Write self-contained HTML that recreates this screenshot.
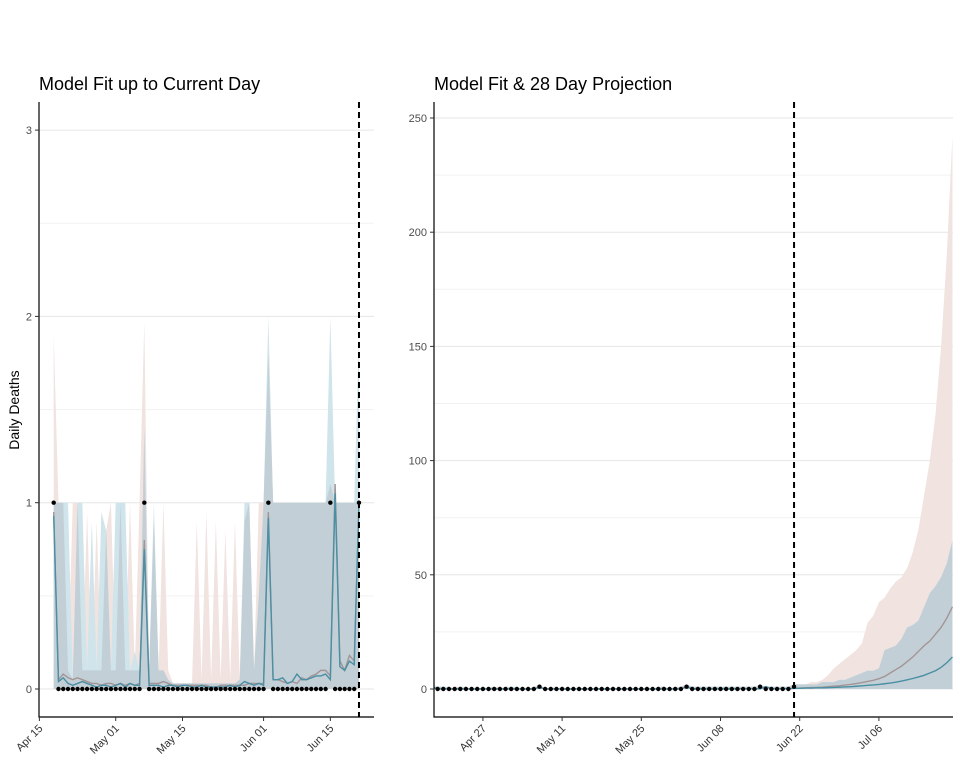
<!DOCTYPE html>
<html><head><meta charset="utf-8">
<style>
html,body{margin:0;padding:0;background:#fff;}
svg{display:block;font-family:"Liberation Sans",sans-serif;}
</style></head>
<body>
<svg id="chart" width="960" height="768" viewBox="0 0 960 768">
</svg>
<script>
// ---------- data ----------
const deaths = [1,0,0,0,0,0,0,0,0,0,0,0,0,0,0,0,0,0,0,1,0,0,0,0,0,0,0,0,0,0,0,0,0,0,0,0,0,0,0,0,0,0,0,0,0,1,0,0,0,0,0,0,0,0,0,0,0,0,1,0,0,0,0,0,1];
const pinkUpperHist = [1.9,1,1,0.1,1,1,0.1,0.95,0.1,0.9,0.1,0.85,1,0.1,1,0.1,1,0.1,1,1.97,0.1,0.9,0.1,1,0.1,0.03,0.03,0.03,0.03,0.03,0.9,0.05,0.95,0.05,0.9,0.05,0.85,0.05,0.9,0.05,0.9,1,0.1,1,1,1.8,1,1,1,1,1,1,1,1,1,1,1,1,1.1,1,1,1,1,1,1];
const blueUpperHist = [1,1,1,1,0.05,1,1,0.1,0.9,0.1,0.95,0.85,0.1,1,1,1,0.1,0.2,0.1,1.4,0.1,1,0.1,0.1,0.05,0.03,0.03,0.03,0.03,0.03,0.03,0.03,0.03,0.03,0.03,0.03,0.03,0.03,0.03,0.05,1,1,0.1,0.5,1,2.0,1,1,1,1,1,1,1,1,1,1,1,1,2.0,1,1,1,1,1,1.9];
const greyMeanHist = [0.95,0.05,0.08,0.06,0.05,0.06,0.05,0.04,0.03,0.03,0.02,0.03,0.03,0.02,0.03,0.02,0.03,0.02,0.03,0.8,0.03,0.03,0.03,0.04,0.03,0.02,0.02,0.02,0.02,0.02,0.02,0.02,0.02,0.01,0.01,0.02,0.02,0.02,0.02,0.02,0.02,0.03,0.03,0.03,0.03,0.95,0.05,0.05,0.04,0.03,0.04,0.03,0.06,0.05,0.07,0.08,0.1,0.1,0.07,1.1,0.15,0.1,0.18,0.15,1.0];
const tealMeanHist = [0.93,0.04,0.06,0.03,0.02,0.03,0.04,0.03,0.02,0.01,0.02,0.02,0.01,0.02,0.03,0.01,0.03,0.02,0.02,0.75,0.02,0.02,0.02,0.01,0.02,0.02,0.01,0.02,0.02,0.01,0.01,0.02,0.01,0.01,0.01,0.01,0.01,0.02,0.01,0.02,0.04,0.03,0.02,0.03,0.02,0.92,0.05,0.05,0.06,0.03,0.04,0.08,0.05,0.05,0.06,0.07,0.07,0.08,0.05,1.05,0.12,0.1,0.15,0.13,1.0];
// projection (days 64..92)
const pinkUpperProj = [2,2,2,3,3,4,6,9,11,13,15,17,20,29,32,38,40,44,47,49,53,60,70,85,100,120,150,190,242];
const blueUpperProj = [2,2,2,2,2,3,3,3,4,4,5,6,7,8,8,9,17,18,19,22,27,28,30,36,42,45,49,55,65];
const greyMeanProj = [0.3,0.4,0.5,0.6,0.7,0.8,1.0,1.2,1.4,1.7,2.0,2.4,2.8,3.3,3.8,4.5,5.5,7,8.5,10,12,14,16.5,19,21,24,27,31,36];
const tealMeanProj = [0.3,0.3,0.4,0.4,0.5,0.5,0.6,0.7,0.8,0.9,1.0,1.2,1.4,1.6,1.8,2.0,2.3,2.6,3.0,3.5,4.0,4.6,5.3,6.0,7.0,8.0,9.5,11.5,14];
const leftXTicks = [-3,13,27,44,58];
const leftXLabels = ["Apr 15","May 01","May 15","Jun 01","Jun 15"];
const rightXTicks = [9,23,37,51,65,79];
const rightXLabels = ["Apr 27","May 11","May 25","Jun 08","Jun 22","Jul 06"];
const leftYTicks = [0,1,2,3];
const rightYTicks = [0,50,100,150,200,250];
const currentDay = 64;

const NS = "http://www.w3.org/2000/svg";
const svg = document.getElementById('chart');
function mk(tag, attrs, parent){ const e=document.createElementNS(NS,tag); for(const k in attrs) e.setAttribute(k,attrs[k]); (parent||svg).appendChild(e); return e; }

function panel(cfg){
  const g = mk('g',{});
  
  
  const X = d => cfg.x0 + d*cfg.dx;
  const Y = v => cfg.y0 - v*cfg.dy;
  const clipId = cfg.name+'-clip';
  const defs = mk('defs',{},g);
  const cp = mk('clipPath',{id:clipId},defs);
  mk('rect',{x:cfg.left,y:102,width:cfg.right-cfg.left,height:615},cp);
  cfg.minor.forEach(v=>{ const l=mk('line',{x1:cfg.left,x2:cfg.right,y1:Y(v),y2:Y(v),stroke:'#f2f2f2','stroke-width':1},g);
      });
  cfg.yTicks.forEach(v=>{ const l=mk('line',{x1:cfg.left,x2:cfg.right,y1:Y(v),y2:Y(v),stroke:'#e6e6e6','stroke-width':1},g);
      });
  const pg = mk('g',{'clip-path':'url(#'+clipId+')'},g);
  function area(vals, fill, name){
    let pts = vals.map((v,i)=>X(cfg.d0+i)+','+Y(v));
    pts.push(X(cfg.d0+vals.length-1)+','+Y(0)); pts.push(X(cfg.d0)+','+Y(0));
    const p = mk('polygon',{points:pts.join(' '),fill:fill},pg);
    
    
  }
  function line(vals, stroke, name){
    const p = mk('polyline',{points:vals.map((v,i)=>X(cfg.d0+i)+','+Y(v)).join(' '),fill:'none',stroke:stroke,'stroke-width':1.4},pg);
    
    
  }
  const overlap = cfg.pink.map((v,i)=>Math.min(v,cfg.blue[i]));
  area(cfg.pink,'#f0e3e0','model-a-ribbon');
  area(cfg.blue,'#d0e4eb','model-b-ribbon');
  area(overlap,'#c3cfd6','ribbon-overlap');
  line(cfg.grey,'#a39595','model-a-mean-line');
  line(cfg.teal,'#4a8fa3','model-b-mean-line');
  deaths.forEach((v,i)=>{ const c=mk('circle',{cx:X(i),cy:Y(v),r:2.2,fill:'#000'},pg);
      });
  const dl = mk('line',{x1:X(currentDay),x2:X(currentDay),y1:102,y2:717,stroke:'#000','stroke-width':2,'stroke-dasharray':'6,4'},g);
   
  const ax = mk('path',{d:`M${cfg.left},102 V717 H${cfg.right}`,fill:'none',stroke:'#000','stroke-width':1.2},g);
   
  cfg.yTicks.forEach(v=>{
    mk('line',{x1:cfg.left-4,x2:cfg.left,y1:Y(v),y2:Y(v),stroke:'#333'},g);
    const t=mk('text',{x:cfg.left-7,y:Y(v)+4,'text-anchor':'end','font-size':11,fill:'#4d4d4d'},g);
    t.textContent=v;
     
  });
  cfg.xTicks.forEach((d,i)=>{
    const x=X(d);
    mk('line',{x1:x,x2:x,y1:717,y2:721,stroke:'#333'},g);
    const t=mk('text',{x:x+4,y:729,'text-anchor':'end','font-size':11,fill:'#333',transform:`rotate(-45 ${x+4} 729)`},g);
    t.textContent=cfg.xLabels[i];
     
  });
  const tt = mk('text',{x:cfg.left,y:90,'font-size':18,fill:'#000'},g);
  tt.textContent = cfg.title;
   
}

panel({name:'fit-panel', left:39, right:374, x0:53.7, dx:4.77, y0:689, dy:186.3, d0:0,
  pink:pinkUpperHist, blue:blueUpperHist, grey:greyMeanHist, teal:tealMeanHist,
  yTicks:leftYTicks, minor:[0.5,1.5,2.5], xTicks:leftXTicks, xLabels:leftXLabels, title:'Model Fit up to Current Day'});

const pinkR = pinkUpperHist.slice(0,64).concat(pinkUpperProj);
const blueR = blueUpperHist.slice(0,64).concat(blueUpperProj);
const greyR = greyMeanHist.slice(0,64).concat(greyMeanProj);
const tealR = tealMeanHist.slice(0,64).concat(tealMeanProj);
panel({name:'projection-panel', left:434, right:953, x0:432, dx:5.657, y0:689, dy:2.284, d0:0,
  pink:pinkR, blue:blueR, grey:greyR, teal:tealR,
  yTicks:rightYTicks, minor:[25,75,125,175,225], xTicks:rightXTicks, xLabels:rightXLabels, title:'Model Fit & 28 Day Projection'});

const yl = mk('text',{x:19,y:410,'font-size':14,'text-anchor':'middle',fill:'#000',transform:'rotate(-90 19 410)'});
yl.textContent='Daily Deaths';


</script>
</body></html>
